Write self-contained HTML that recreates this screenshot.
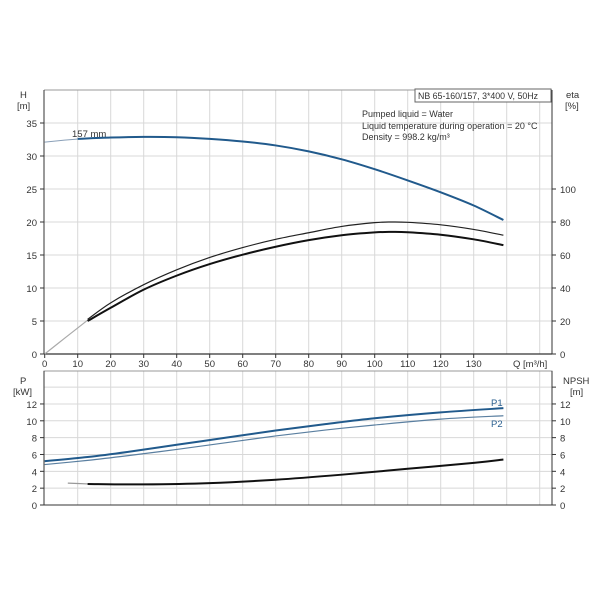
<!DOCTYPE html>
<html><head><meta charset="utf-8"><style>
body{margin:0;background:#fff;}
svg{display:block;font-family:"Liberation Sans",sans-serif;}
text{fill:#333;font-size:9.5px;}
</style></head><body>
<svg id="s" width="603" height="603" viewBox="0 0 603 603" xmlns="http://www.w3.org/2000/svg">
<g id="grid" stroke="#d8d8d8" stroke-width="1"></g>
<line x1="44" y1="90" x2="552" y2="90" stroke="#999"/>
<line x1="44" y1="90" x2="44" y2="354" stroke="#333"/>
<line x1="552" y1="90" x2="552" y2="354" stroke="#333"/>
<line x1="44" y1="354" x2="552" y2="354" stroke="#333" stroke-width="1.2"/>
<rect x="44" y="371" width="508" height="134" fill="none" stroke="#999"/>
<line x1="44" y1="371" x2="44" y2="505" stroke="#333"/>
<line x1="552" y1="371" x2="552" y2="505" stroke="#333"/>
<line x1="44" y1="505" x2="552" y2="505" stroke="#333"/>
<g id="ticks" stroke="#333"></g>
<g id="labels"></g>
<text x="20" y="98">H</text><text x="17" y="109">[m]</text>
<text x="566" y="98">eta</text><text x="565" y="109">[%]</text>
<text x="513" y="367">Q [m³/h]</text>
<text x="20" y="384">P</text><text x="13" y="395">[kW]</text>
<text x="563" y="384">NPSH</text><text x="570" y="395">[m]</text>
<rect x="415" y="89" width="136" height="13" fill="#fff" stroke="#666"/>
<text x="418" y="99" style="font-size:8.8px">NB 65-160/157, 3*400 V, 50Hz</text>
<text x="362" y="117" style="font-size:9px">Pumped liquid = Water</text>
<text x="362" y="129" style="font-size:9px">Liquid temperature during operation = 20 °C</text>
<text x="362" y="140" style="font-size:9px">Density = 998.2 kg/m³</text>
<text x="72" y="137">157 mm</text>
<text x="491" y="406" style="fill:#2a5f8f">P1</text>
<text x="491" y="427" style="fill:#2a5f8f">P2</text>
<g id="curves" fill="none"></g>
</svg>
<script>
const NS="http://www.w3.org/2000/svg";
const X=q=>44.7+3.3*q, YH=h=>354-6.6*h, YE=e=>354-1.65*e, YP=p=>505-8.42*p;
function el(p,tag,a,txt){const e=document.createElementNS(NS,tag);for(const k in a)e.setAttribute(k,a[k]);if(txt!==undefined)e.textContent=txt;document.getElementById(p).appendChild(e);}
for(let q=10;q<=150;q+=10){el('grid','line',{x1:X(q),y1:90,x2:X(q),y2:354});el('grid','line',{x1:X(q),y1:371,x2:X(q),y2:505});}
for(let h=5;h<=35;h+=5)el('grid','line',{x1:44,y1:YH(h),x2:552,y2:YH(h)});
for(let p=2;p<=14;p+=2)el('grid','line',{x1:44,y1:YP(p),x2:552,y2:YP(p)});
for(let q=0;q<=130;q+=10){el('labels','text',{x:X(q),y:367,'text-anchor':'middle'},q);el('ticks','line',{x1:X(q),y1:354,x2:X(q),y2:358});}
for(let h=0;h<=35;h+=5){el('labels','text',{x:37,y:YH(h)+4,'text-anchor':'end'},h);el('ticks','line',{x1:40,y1:YH(h),x2:44,y2:YH(h)});}
for(let e=0;e<=100;e+=20){el('labels','text',{x:560,y:YE(e)+4},e);el('ticks','line',{x1:552,y1:YE(e),x2:556,y2:YE(e)});}
for(let p=0;p<=12;p+=2){el('labels','text',{x:37,y:YP(p)+4,'text-anchor':'end'},p);el('labels','text',{x:560,y:YP(p)+4},p);el('ticks','line',{x1:40,y1:YP(p),x2:44,y2:YP(p)});el('ticks','line',{x1:552,y1:YP(p),x2:556,y2:YP(p)});}
el('ticks','line',{x1:552,y1:YP(14),x2:556,y2:YP(14)});
function path(pts,fy){let d='';const P=pts.map(([q,v])=>[X(q),fy(v)]);
for(let i=0;i<P.length;i++){if(i==0){d+='M'+P[0];continue;}
const p0=P[Math.max(i-2,0)],p1=P[i-1],p2=P[i],p3=P[Math.min(i+1,P.length-1)];
d+=`C${p1[0]+(p2[0]-p0[0])/6},${p1[1]+(p2[1]-p0[1])/6} ${p2[0]-(p3[0]-p1[0])/6},${p2[1]-(p3[1]-p1[1])/6} ${p2[0]},${p2[1]}`;}return d;}
function draw(pts,fy,col,w){el('curves','path',{d:path(pts,fy),stroke:col,'stroke-width':w});}
draw([[0,32.1],[6,32.4],[13,32.7]],YH,'#8aa0b8',1);
draw([[10,32.6],[20,32.8],[30,32.9],[40,32.85],[50,32.6],[60,32.2],[70,31.6],[80,30.7],[90,29.5],[100,28.0],[110,26.3],[120,24.5],[130,22.5],[139,20.3]],YH,'#215a8c',2);
const E1=[[13,21],[20,31],[30,42],[40,51],[50,58.5],[60,64.5],[70,69.5],[80,73.5],[90,77.3],[100,79.6],[105,80],[110,79.8],[120,78.3],[130,75.5],[139,72]];
const E2=[[13,20],[20,28],[30,39],[40,47.5],[50,54.5],[60,60.2],[70,65],[80,69],[90,72],[100,73.7],[105,74],[110,73.8],[120,72.3],[130,69.5],[139,66]];
draw([[0,0],[6,9.5],[13,20.5]],YE,'#aaa',1.2);draw(E1,YE,'#222',1.2);draw(E2,YE,'#111',2);
draw([[0,5.2],[13,5.7],[25,6.3],[40,7.15],[55,8.0],[70,8.85],[85,9.6],[100,10.3],[120,11.0],[139,11.5]],YP,'#215a8c',2);
draw([[0,4.8],[13,5.3],[25,5.85],[40,6.6],[55,7.4],[70,8.2],[85,8.9],[100,9.5],[120,10.2],[139,10.6]],YP,'#5a7fa0',1.2);
draw([[7,2.6],[13,2.5]],YP,'#999',1.2);
draw([[13,2.5],[30,2.45],[50,2.6],[70,3.0],[90,3.6],[110,4.3],[130,5.0],[139,5.4]],YP,'#111',2);
</script>
</body></html>
